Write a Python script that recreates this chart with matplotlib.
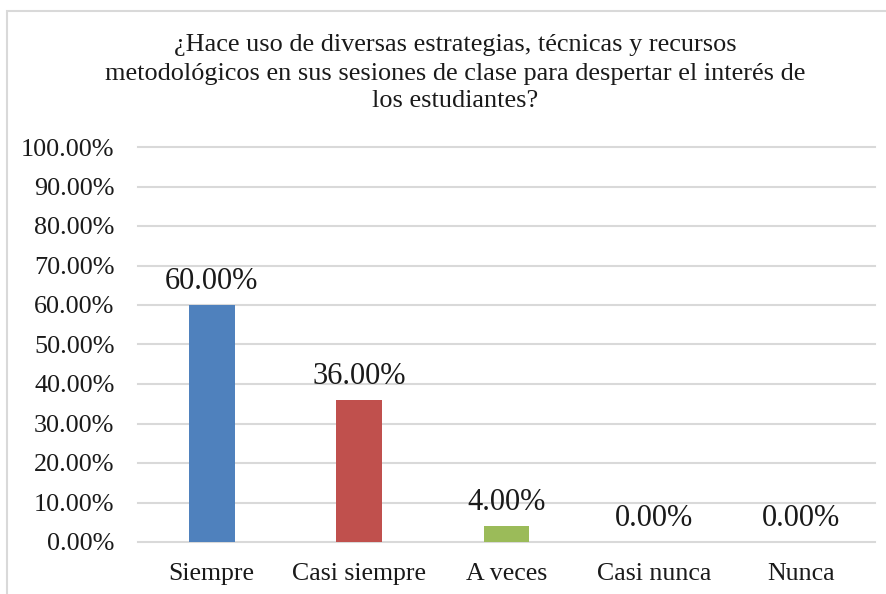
import matplotlib
matplotlib.use("Agg")
import matplotlib.pyplot as plt
from matplotlib.patches import Rectangle
from matplotlib.ticker import FuncFormatter, MultipleLocator

categories = ["Siempre", "Casi siempre", "A veces", "Casi nunca", "Nunca"]
values = [0.60, 0.36, 0.04, 0.00, 0.00]
colors = ["#4F81BD", "#C0504D", "#9BBB59", "#8064A2", "#4BACC6"]
title_lines = [
    "¿Hace uso de diversas estrategias, técnicas y recursos",
    "metodológicos en sus sesiones de clase para despertar el interés de",
    "los estudiantes?",
]

plt.rcParams["font.family"] = ["Liberation Serif", "DejaVu Serif"]
TEXT = "#1a1a1a"
GRID = "#d9d9d9"

W, H = 887, 594
fig = plt.figure(figsize=(W / 100, H / 100), dpi=100)
fig.patch.set_facecolor("white")

# chart frame
fig.patches.append(Rectangle((7 / W, -0.05), 1.05, 1 - 11 / H + 0.05,
                             transform=fig.transFigure, fill=False,
                             edgecolor="#d9d9d9", linewidth=1.5))

left, right = 138 / W, 875 / W
bottom, top = 1 - 542 / H, 1 - 147 / H
ax = fig.add_axes([left, bottom, right - left, top - bottom])

x = range(len(categories))
ax.bar(x, values, width=0.31, color=colors, zorder=3)

ax.set_xlim(-0.5, len(categories) - 0.5)
ax.set_ylim(0, 1.0)
ax.yaxis.set_major_locator(MultipleLocator(0.1))
ax.yaxis.set_major_formatter(FuncFormatter(lambda v, p: f"{v * 100:.2f}%"))
ax.grid(axis="y", color=GRID, linewidth=1.5, zorder=0)
for gl in ax.get_ygridlines():
    gl.set_clip_on(False)
for s in ax.spines.values():
    s.set_visible(False)
ax.tick_params(axis="both", length=0, colors=TEXT)
ax.tick_params(axis="y", labelsize=18.8, pad=17)
ax.tick_params(axis="x", labelsize=18.6, pad=15)
ax.set_xticks(list(x))
ax.set_xticklabels(categories)

for xi, v in zip(x, values):
    ax.annotate(f"{v * 100:.2f}%", (xi, v), xytext=(0, 11.5),
                textcoords="offset points", ha="center", va="baseline",
                fontsize=22, color=TEXT)

# title, one line at a time
for line, base in zip(title_lines, [51, 80, 107]):
    fig.text(455 / W, 1 - base / H, line, ha="center", va="baseline",
             fontsize=18.9, color=TEXT)

fig.savefig("out.png", dpi=100, facecolor="white")
